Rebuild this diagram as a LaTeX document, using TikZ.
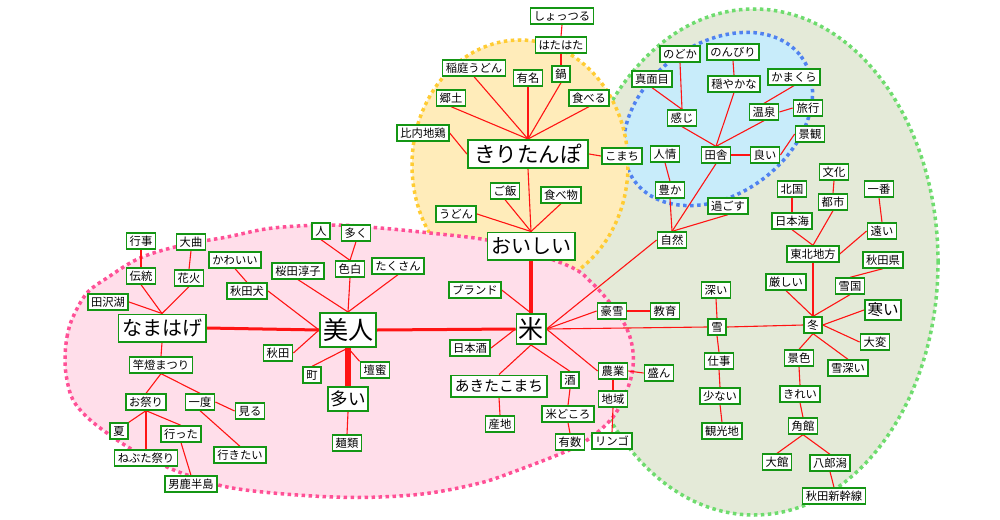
\documentclass[tikz,border=0pt]{standalone}
\usepackage{fontspec}
\newfontfamily\jp{Noto Sans CJK JP}
\definecolor{ndgreen}{RGB}{20,150,20}
\definecolor{edred}{RGB}{255,20,20}
\definecolor{pinkfill}{RGB}{255,222,234}
\definecolor{pinkline}{RGB}{255,80,150}
\definecolor{yelfill}{RGB}{255,236,186}
\definecolor{yelline}{RGB}{255,204,51}
\definecolor{grnfill}{RGB}{228,234,216}
\definecolor{grnline}{RGB}{110,220,110}
\definecolor{blufill}{RGB}{200,236,250}
\definecolor{bluline}{RGB}{80,130,240}
\pgfdeclarelayer{backlayer}
\pgfdeclarelayer{edgelayer}
\pgfsetlayers{backlayer,edgelayer,main}
\tikzset{
  nd/.style={draw=ndgreen, line width=1.8pt, fill=white, inner xsep=3.2pt, inner ysep=2.1pt,
    font=\jp\fontsize{11.3pt}{12pt}\selectfont, text height=9.9pt, text depth=1.4pt},
  bkiri/.style={nd, inner xsep=6.5pt, inner ysep=3.35pt, font=\jp\fontsize{21.5pt}{22pt}\selectfont, text height=18.9pt, text depth=2.6pt},
  bmid/.style={nd, inner xsep=3.6pt, inner ysep=3.6pt, font=\jp\fontsize{20pt}{21pt}\selectfont, text height=17.6pt, text depth=2.4pt},
  bbig/.style={nd, inner xsep=3.1pt, inner ysep=4.6pt, font=\jp\fontsize{25pt}{26pt}\selectfont, text height=22pt, text depth=3pt},
  bkome/.style={bbig, inner xsep=2.1pt, inner ysep=2.6pt},
  booi/.style={nd, inner xsep=2.6pt, inner ysep=3.35pt, font=\jp\fontsize{17.5pt}{18pt}\selectfont, text height=15.4pt, text depth=2.1pt},
  bsamui/.style={nd, inner xsep=2.6pt, inner ysep=2.35pt, font=\jp\fontsize{15.5pt}{16pt}\selectfont, text height=13.6pt, text depth=1.9pt},
  bakita/.style={nd, inner xsep=4pt, inner ysep=3.25pt, font=\jp\fontsize{14.7pt}{15pt}\selectfont, text height=12.9pt, text depth=1.8pt},
  ed/.style={draw=edred, line width=1.1pt},
  dotb/.style={line width=3.5pt, dash pattern=on 3.5pt off 3.5pt}
}
\begin{document}
\begin{tikzpicture}[x=1pt,y=-1pt]
\useasboundingbox (0,0) rectangle (1000,519);
% backgrounds
\begin{pgfonlayer}{backlayer}
\fill[white] (0,0) rectangle (1000,519);
\filldraw[fill=grnfill, draw=grnline, dotb] (754,262) ellipse [x radius=184pt, y radius=253pt];
\filldraw[fill=blufill, draw=bluline, dotb] plot[domain=0:360, samples=121, variable=\t]
  ({718+104*cos(\t)*0.7986+75*sin(\t)*0.6018}, {119-104*cos(\t)*0.6018+75*sin(\t)*0.7986}) -- cycle;
\filldraw[fill=yelfill, draw=yelline, dotb] (520,165) ellipse [x radius=108pt, y radius=125pt];
\filldraw[fill=pinkfill, draw=pinkline, dotb] plot[smooth cycle, tension=0.6] coordinates {
  (65,360) (67,337) (73,317) (87,293) (107,278) (140,258) (183,245) (227,237) (273,228)
  (333,225) (380,228) (430,233) (487,240) (530,252) (573,268) (592,283) (610,303) (625,325)
  (632,345) (633,367) (627,390) (613,417) (590,438) (567,451) (513,472) (480,483) (430,493)
  (380,497) (333,497) (273,493) (227,487) (193,477) (167,467) (133,450) (107,433) (87,417)
  (73,400) (67,380)};
\end{pgfonlayer}

% nodes: kiritanpo group
\node[nd] (shottsuru) at (562,16) {しょっつる};
\node[nd] (hatahata) at (561,45) {はたはた};
\node[nd] (inaniwa) at (474,68) {稲庭うどん};
\node[nd] (yumei) at (528,78) {有名};
\node[nd] (nabe) at (561,74) {鍋};
\node[nd] (kyodo) at (451,98) {郷土};
\node[nd] (taberu) at (589,98) {食べる};
\node[nd] (hinai) at (423,133) {比内地鶏};
\node[bkiri] (kiri) at (528,154) {きりたんぽ};
\node[nd] (komachi) at (622,156) {こまち};
\node[nd] (gohan) at (505,191) {ご飯};
\node[nd] (tabemono) at (561,195) {食べ物};
\node[nd] (udon) at (456,214) {うどん};
\node[bmid] (oishii) at (531,246) {おいしい};
% kome group
\node[nd] (brand) at (475,290) {ブランド};
\node[bkome] (kome) at (531,329) {米};
\node[nd] (gosetsu) at (612,311) {豪雪};
\node[nd] (kyoiku) at (665,311) {教育};
\node[nd] (nihonshu) at (470,348) {日本酒};
\node[nd] (nogyo) at (613,371) {農業};
\node[nd] (sakan) at (659,373) {盛ん};
\node[nd] (sake) at (570,380) {酒};
\node[bakita] (akitakomachi) at (499,386) {あきたこまち};
\node[nd] (chiiki) at (613,399) {地域};
\node[nd] (komedokoro) at (568,414) {米どころ};
\node[nd] (sanchi) at (500,424) {産地};
\node[nd] (yusu) at (570,442) {有数};
\node[nd] (ringo) at (612,441) {リンゴ};
% bijin group
\node[nd] (hito) at (321,231) {人};
\node[nd] (ooku) at (356,233) {多く};
\node[nd] (irojiro) at (350,269) {色白};
\node[nd] (takusan) at (398,266) {たくさん};
\node[nd] (sakurada) at (298,271) {桜田淳子};
\node[bbig] (bijin) at (348,330) {美人};
\node[nd] (akita) at (278,353) {秋田};
\node[nd] (machi) at (312,375) {町};
\node[nd] (danmitsu) at (375,370) {壇蜜};
\node[booi] (ooi) at (348,399) {多い};
\node[nd] (menrui) at (347,443) {麺類};
% namahage group
\node[nd] (gyoji) at (141,241) {行事};
\node[nd] (omagari) at (191,242) {大曲};
\node[nd] (kawaii) at (235,260) {かわいい};
\node[nd] (dento) at (141,276) {伝統};
\node[nd] (hanabi) at (189,278) {花火};
\node[nd] (akitainu) at (247,291) {秋田犬};
\node[nd] (tazawako) at (108,302) {田沢湖};
\node[bmid] (namahage) at (162,328) {なまはげ};
\node[nd] (kanto) at (161,365) {竿燈まつり};
\node[nd] (omatsuri) at (146,402) {お祭り};
\node[nd] (ichido) at (200,402) {一度};
\node[nd] (miru) at (250,411) {見る};
\node[nd] (natsu) at (119,431) {夏};
\node[nd] (itta) at (181,434) {行った};
\node[nd] (nebuta) at (146,458) {ねぶた祭り};
\node[nd] (ikitai) at (240,455) {行きたい};
\node[nd] (oga) at (191,484) {男鹿半島};
% inaka group
\node[nd] (nodoka) at (680,54) {のどか};
\node[nd] (nonbiri) at (733,52) {のんびり};
\node[nd] (majime) at (652,79) {真面目};
\node[nd] (odayaka) at (734,84) {穏やかな};
\node[nd] (kamakura) at (794,77) {かまくら};
\node[nd] (onsen) at (764,112) {温泉};
\node[nd] (ryoko) at (808,108) {旅行};
\node[nd] (kanji) at (682,118) {感じ};
\node[nd] (keikan) at (810,134) {景観};
\node[nd] (ninjo) at (665,154) {人情};
\node[nd] (inaka) at (716,155) {田舎};
\node[nd] (yoi) at (765,155) {良い};
\node[nd] (yutaka) at (670,190) {豊か};
\node[nd] (sugosu) at (728,206) {過ごす};
\node[nd] (shizen) at (672,240) {自然};
% tohoku / fuyu group
\node[nd] (kitaguni) at (792,189) {北国};
\node[nd] (bunka) at (834,172) {文化};
\node[nd] (toshi) at (833,202) {都市};
\node[nd] (ichiban) at (879,189) {一番};
\node[nd] (nihonkai) at (792,221) {日本海};
\node[nd] (tooi) at (882,231) {遠い};
\node[nd] (tohoku) at (813,254) {東北地方};
\node[nd] (akitaken) at (883,260) {秋田県};
\node[nd] (kibishii) at (786,282) {厳しい};
\node[nd] (yukiguni) at (850,286) {雪国};
\node[bsamui] (samui) at (883,310) {寒い};
\node[nd] (fuyu) at (813,325) {冬};
\node[nd] (taihen) at (875,342) {大変};
\node[nd] (keshiki) at (799,358) {景色};
\node[nd] (yukibukai) at (848,368) {雪深い};
\node[nd] (kirei) at (800,394) {きれい};
\node[nd] (kakunodate) at (803,426) {角館};
\node[nd] (odate) at (777,462) {大館};
\node[nd] (hachirogata) at (830,463) {八郎潟};
\node[nd] (shinkansen) at (834,496) {秋田新幹線};
\node[nd] (fukai) at (716,290) {深い};
\node[nd] (yuki) at (717,327) {雪};
\node[nd] (shigoto) at (719,361) {仕事};
\node[nd] (sukunai) at (720,396) {少ない};
\node[nd] (kankochi) at (722,431) {観光地};

% edges
\begin{pgfonlayer}{edgelayer}
% kiritanpo
\draw[ed] (shottsuru.south) -- (hatahata.north);
\draw[ed] (hatahata.south) -- (nabe.north);
\draw[ed] (kiri.north) -- (inaniwa.south);
\draw[ed] (kiri.north) -- (yumei.south);
\draw[ed] (kiri.north) -- (nabe.south);
\draw[ed] (kiri.north) -- (kyodo.south);
\draw[ed] (kiri.north) -- (taberu.south);
\draw[ed] (hinai.east) -- (kiri.west);
\draw[ed] (kiri.east) -- (komachi.west);
\draw[ed] (kiri.south) -- (oishii.north);
% oishii
\draw[ed] (oishii.north) -- (gohan.south);
\draw[ed] (oishii.north) -- (tabemono.south);
\draw[ed] (oishii.north) -- (udon.east);
\draw[ed, line width=4pt] (oishii.south) -- (kome.north);
% kome
\draw[ed] (kome.north) -- (brand.east);
\draw[ed] (kome.west) -- (nihonshu.east);
\draw[ed, line width=3pt] (bijin.east) -- (kome.west);
\draw[ed] (kome.south) -- (akitakomachi.north);
\draw[ed] (kome.south) -- (sake.north);
\draw[ed] (kome.east) -- (gosetsu.west);
\draw[ed] (kome.east) -- (shizen.west);
\draw[ed] (kome.east) -- (yuki.west);
\draw[ed] (kome.east) -- (nogyo.west);
\draw[ed] (gosetsu.east) -- (kyoiku.west);
\draw[ed] (nogyo.east) -- (sakan.west);
\draw[ed] (nogyo.south) -- (chiiki.north);
\draw[ed] (chiiki.south) -- (ringo.north);
\draw[ed] (sake.south) -- (komedokoro.north);
\draw[ed] (komedokoro.south) -- (yusu.north);
\draw[ed] (akitakomachi.south) -- (sanchi.north);
% bijin
\draw[ed] (hito.south) -- (irojiro.north);
\draw[ed] (ooku.south) -- (irojiro.north);
\draw[ed] (irojiro.south) -- (bijin.north);
\draw[ed] (takusan.south) -- (bijin.north);
\draw[ed] (sakurada.south) -- (bijin.north);
\draw[ed] (akitainu.east) -- (bijin.west);
\draw[ed] (akita.east) -- (bijin.west);
\draw[ed] (machi.north) -- (bijin.south);
\draw[ed] (danmitsu.north west) -- (bijin.south);
\draw[ed, line width=5.5pt] (bijin.south) -- (ooi.north);
\draw[ed] (ooi.south) -- (menrui.north);
\draw[ed, line width=3pt] (namahage.east) -- (bijin.west);
% namahage
\draw[ed] (tazawako.east) -- (namahage.north);
\draw[ed] (dento.south) -- (namahage.north);
\draw[ed] (hanabi.south) -- (namahage.north);
\draw[ed] (gyoji.south) -- (dento.north);
\draw[ed] (omagari.south) -- (hanabi.north);
\draw[ed] (kawaii.south) -- (akitainu.north);
\draw[ed] (namahage.south) -- (kanto.north);
\draw[ed] (kanto.south) -- (omatsuri.north);
\draw[ed] (kanto.south) -- (ichido.north);
\draw[ed] (omatsuri.south) -- (natsu.north east);
\draw[ed] (omatsuri.south) -- (nebuta.north);
\draw[ed] (omatsuri.south) -- (itta.north);
\draw[ed] (itta.south) -- (oga.north);
\draw[ed] (ichido.east) -- (miru.west);
\draw[ed] (ichido.south) -- (ikitai.north);
% yuki / fuyu
\draw[ed] (yuki.north) -- (fukai.south);
\draw[ed] (yuki.east) -- (fuyu.west);
\draw[ed] (yuki.south) -- (shigoto.north);
\draw[ed] (shigoto.south) -- (sukunai.north);
\draw[ed] (sukunai.south) -- (kankochi.north);
\draw[ed] (fuyu.north) -- (tohoku.south);
\draw[ed] (fuyu.north) -- (kibishii.south);
\draw[ed] (fuyu.north) -- (yukiguni.south);
\draw[ed] (fuyu.east) -- (samui.west);
\draw[ed] (fuyu.east) -- (taihen.west);
\draw[ed] (fuyu.south) -- (keshiki.north);
\draw[ed] (fuyu.south) -- (yukibukai.north);
\draw[ed] (keshiki.south) -- (kirei.north);
\draw[ed] (kirei.south) -- (kakunodate.north);
\draw[ed] (kakunodate.south) -- (odate.north);
\draw[ed] (kakunodate.south) -- (hachirogata.north);
\draw[ed] (hachirogata.south) -- (shinkansen.north);
\draw[ed] (yukiguni.north) -- (akitaken.south);
\draw[ed] (tohoku.north) -- (nihonkai.south);
\draw[ed] (tohoku.north) -- (toshi.south);
\draw[ed] (tohoku.east) -- (tooi.west);
\draw[ed] (tooi.north) -- (ichiban.south);
\draw[ed] (toshi.north) -- (bunka.south);
\draw[ed] (nihonkai.north) -- (kitaguni.south);
% shizen / inaka
\draw[ed] (shizen.north) -- (yutaka.south);
\draw[ed] (shizen.north) -- (inaka.south);
\draw[ed] (shizen.north) -- (sugosu.south);
\draw[ed] (yutaka.north) -- (ninjo.south);
\draw[ed] (inaka.north) -- (kanji.south);
\draw[ed] (inaka.north) -- (onsen.south);
\draw[ed] (inaka.north) -- (odayaka.south);
\draw[ed] (inaka.east) -- (yoi.west);
\draw[ed] (yoi.east) -- (keikan.west);
\draw[ed] (kanji.north) -- (nodoka.south);
\draw[ed] (kanji.north) -- (majime.south);
\draw[ed] (odayaka.north) -- (nonbiri.south);
\draw[ed] (onsen.north) -- (kamakura.south);
\draw[ed] (onsen.east) -- (ryoko.west);
\end{pgfonlayer}
\end{tikzpicture}
\end{document}
